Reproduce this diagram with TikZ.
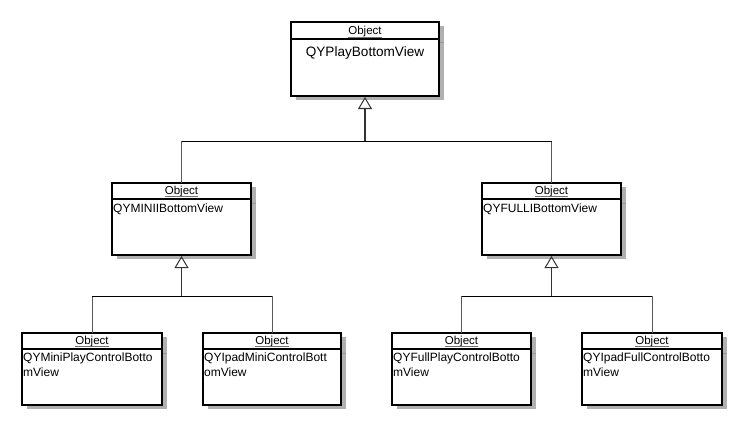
\documentclass[tikz,border=0pt]{standalone}
\usepackage{fontspec}
\setmainfont{Liberation Sans}
\usetikzlibrary{arrows.meta}
\definecolor{shadowgray}{RGB}{176,176,176}
\definecolor{shadowline}{RGB}{150,150,150}
\begin{document}
\begin{tikzpicture}[x=1pt,y=-1pt,
  cls/.style={draw, line width=2pt, fill=white, inner sep=0pt, outer sep=0pt,
    preaction={fill=shadowgray, transform canvas={shift={(5pt,-4pt)}}}},
  hdrline/.style={line width=2pt},
  shtick/.style={line width=1pt, shadowline},
  hdr/.style={font=\fontsize{11.5}{13}\selectfont, anchor=base, inner sep=0pt},
  uline/.style={line width=0.8pt, black!55},
  bigtxt/.style={font=\fontsize{13.6}{16}\selectfont, anchor=base, inner sep=0pt},
  body/.style={font=\fontsize{12}{14}\selectfont, anchor=base west, inner sep=0pt},
  bus/.style={line width=1pt, black},
  stem/.style={line width=1.5pt, black!80, -{Triangle[open, width=14pt, length=12pt, line width=1pt]}, shorten >=1pt},
  drop/.style={line width=1pt, black!65}
]
\useasboundingbox (0,0) rectangle (743,425);

% ---- classes ----
\node[cls, minimum width=148pt, minimum height=74pt] (top) at (365,59) {};
\node[cls, minimum width=139pt, minimum height=72pt] (mini) at (181.5,219) {};
\node[cls, minimum width=139pt, minimum height=72pt] (full) at (551.5,219) {};
\node[cls, minimum width=140pt, minimum height=72pt] (b1) at (92,369) {};
\node[cls, minimum width=138pt, minimum height=72pt] (b2) at (272,369) {};
\node[cls, minimum width=139pt, minimum height=72pt] (b3) at (461.5,369) {};
\node[cls, minimum width=140pt, minimum height=72pt] (b4) at (652,369) {};

% header separators (and their shadow ticks)
\draw[hdrline] ([yshift=-17pt]top.north west) -- ([yshift=-17pt]top.north east);
\draw[shtick] ([xshift=1pt,yshift=-21pt]top.north east) -- ([xshift=5pt,yshift=-21pt]top.north east);
\foreach \n in {mini,full,b1,b2,b3,b4}{
  \draw[hdrline] ([yshift=-16pt]\n.north west) -- ([yshift=-16pt]\n.north east);
  \draw[shtick] ([xshift=1pt,yshift=-20pt]\n.north east) -- ([xshift=5pt,yshift=-20pt]\n.north east);
}

% ---- texts ----
\node[hdr] (tophdr) at (365,35) {Object};
\node[bigtxt] (toptxt) at (365,56.5) {QYPlayBottomView};

\node[hdr] (minihdr) at (181.5,194.5) {Object};
\node[body] (minitxt) at (113,212) {QYMINIIBottomView};
\node[hdr] (fullhdr) at (551.5,194.5) {Object};
\node[body] (fulltxt) at (483,212) {QYFULLIBottomView};

\node[hdr] (b1hdr) at (92,344.5) {Object};
\node[body] (b1a) at (23,361.5) {QYMiniPlayControlBotto};
\node[body] (b1b) at (23,376) {mView};
\node[hdr] (b2hdr) at (272,344.5) {Object};
\node[body] (b2a) at (204,361.5) {QYIpadMiniControlBott};
\node[body] (b2b) at (204,376) {omView};
\node[hdr] (b3hdr) at (461.5,344.5) {Object};
\node[body] (b3a) at (393,361.5) {QYFullPlayControlBotto};
\node[body] (b3b) at (393,376) {mView};
\node[hdr] (b4hdr) at (652,344.5) {Object};
\node[body] (b4a) at (583,361.5) {QYIpadFullControlBotto};
\node[body] (b4b) at (583,376) {mView};

% underlines of the "Object" headers
\foreach \n in {tophdr,minihdr,fullhdr,b1hdr,b2hdr,b3hdr,b4hdr}
  \draw[uline] ([yshift=-2pt]\n.base west) -- ([yshift=-2pt]\n.base east);

% ---- connectors ----
\coordinate (j0) at (365,141);
\coordinate (j1) at (181.5,296);
\coordinate (j2) at (551.5,296);

\draw[drop] (mini.north) -- (mini.north |- j0);
\draw[drop] (full.north) -- (full.north |- j0);
\draw[bus] (mini.north |- j0) -- (full.north |- j0);
\draw[stem] (j0) -- (top.south);

\draw[drop] (b1.north) -- (b1.north |- j1);
\draw[drop] (b2.north) -- (b2.north |- j1);
\draw[bus] (b1.north |- j1) -- (b2.north |- j1);
\draw[stem] (j1) -- (mini.south);

\draw[drop] (b3.north) -- (b3.north |- j2);
\draw[drop] (b4.north) -- (b4.north |- j2);
\draw[bus] (b3.north |- j2) -- (b4.north |- j2);
\draw[stem] (j2) -- (full.south);
\end{tikzpicture}
\end{document}
